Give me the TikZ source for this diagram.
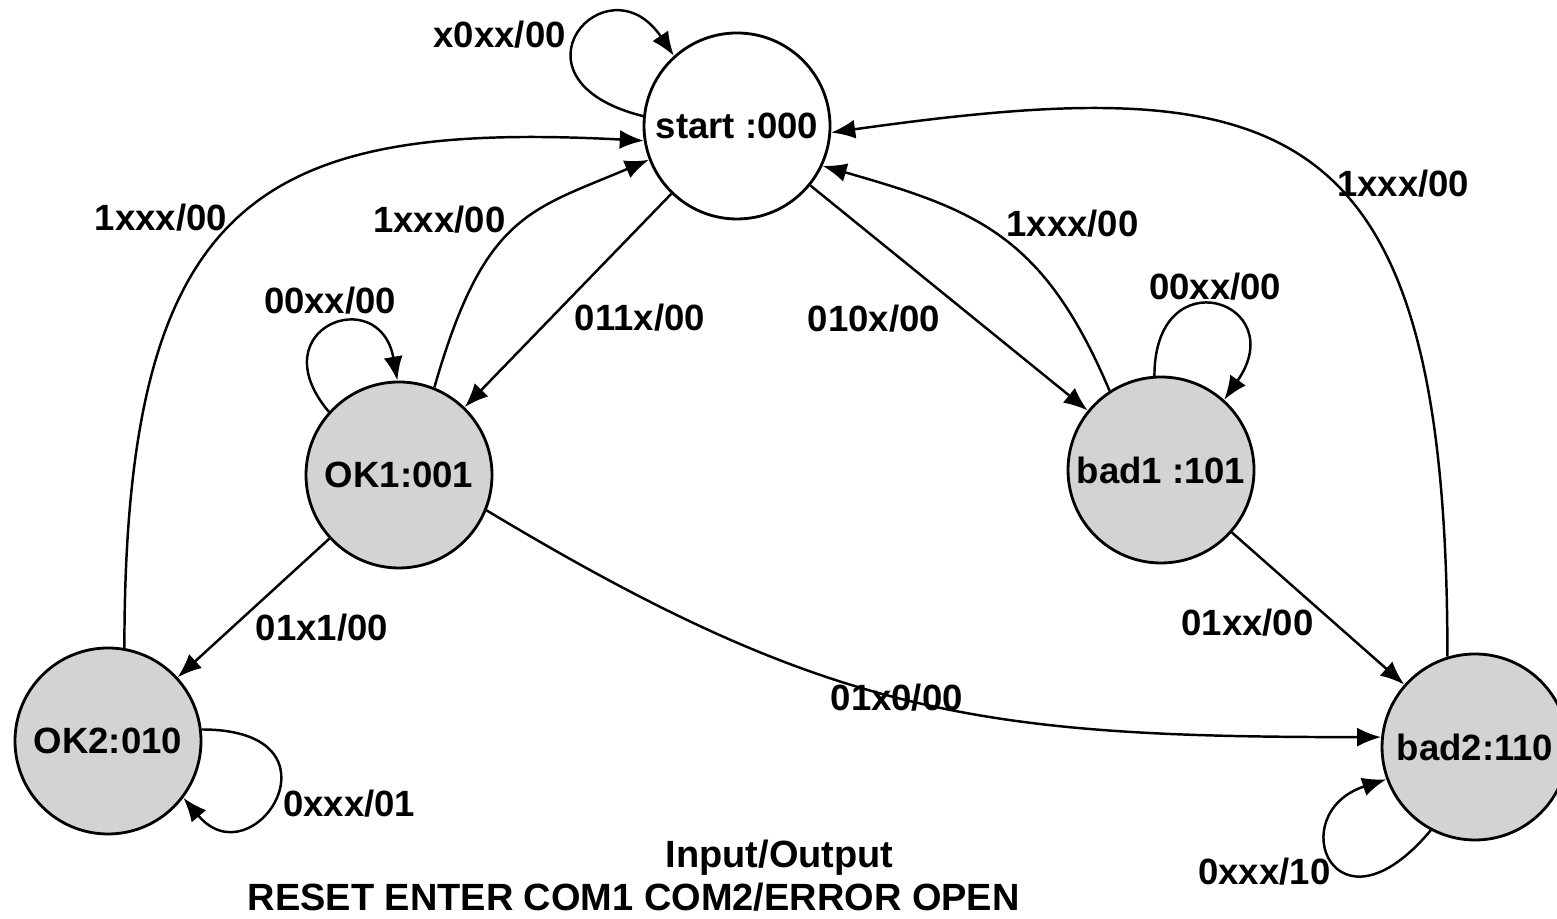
\documentclass[tikz,border=0pt]{standalone}
\usepackage{fontspec}
\setmainfont{Liberation Sans}
\usepackage{xcolor}
\usepackage{tikz}
\usetikzlibrary{arrows.meta}
\definecolor{stategray}{RGB}{211,211,211}

\begin{document}
\begin{tikzpicture}[
    font=\fontsize{10.4}{12.5}\selectfont\bfseries,
    state/.style={
        circle,
        draw=black,
        fill=stategray,
        line width=0.8pt,
        minimum size=1.86cm,
        inner sep=0pt
    },
    initstate/.style={state, fill=white},
    trans/.style={-{Latex[length=2.4mm, width=1.9mm]}, line width=0.7pt},
    legend/.style={anchor=west, inner sep=0pt, font=\fontsize{10.8}{13}\selectfont\bfseries}
]
\useasboundingbox (0,0) rectangle (15.57,9.19);

% States
\node[initstate] (start) at (7.37, 7.93) {start :000};
\node[state] (ok1)  at (3.99, 4.44)  {OK1:001};
\node[state] (ok2)  at (1.08, 1.78)  {OK2:010};
\node[state] (bad1) at (11.61, 4.49) {bad1 :101};
\node[state] (bad2) at (14.75, 1.72) {bad2:110};

% Self loops
\draw[trans] (start.174) .. controls +(166:1.5) and +(124:1.2) .. (start.132) node[pos=0.5, left] {x0xx/00};
\draw[trans] (ok1.138) .. controls +(130:1.1) and +(100:1.0) .. (ok1.91) node[pos=0.5, above] {00xx/00};
\draw[trans] (bad1.94) .. controls +(90:1.2) and +(55:1.2) .. (bad1.48) node[pos=0.5, above=-2pt] {00xx/00};
\draw[trans] (ok2.7) .. controls +(0:1.5) and +(-50:1.1) .. (ok2.-37) node[pos=0.55, right] {0xxx/01};
\draw[trans] (bad2.-118) .. controls +(-130:1.5) and +(198:1.1) .. (bad2.-160) node[pos=0.4, left] {0xxx/10};

% Out of start
\draw[trans] (start) -- node[pos=0.58, right=3pt] {011x/00} (ok1);
\draw[trans] (start) -- node[pos=0.59, left=6pt] {010x/00} (bad1);

% Back to start
\draw[trans] (ok1.68) .. controls +(74:1.8) and +(203:1.3) .. (start.201) node[pos=0.55, left=2pt] {1xxx/00};
\draw[trans] (ok2.80) .. controls +(90:4.5) and +(177:3.85) .. (start.189) node[pos=0.5, left] {1xxx/00};
\draw[trans] (bad1.123) .. controls +(113:1.7) and +(-16:1.6) .. (start.-25) node[pos=0.48, above right=-3pt] {1xxx/00};
\draw[trans] (bad2.107) .. controls +(90:5.5) and +(8:4.6) .. (start.-4) node[pos=0.5, anchor=north west, xshift=4pt, yshift=2pt] {1xxx/00};

% Forward
\draw[trans] (ok1) -- node[pos=0.64, right=3pt] {01x1/00} (ok2);
\draw[trans] (bad1) -- node[pos=0.59, left=2pt] {01xx/00} (bad2);
\draw[trans] (ok1.-22) .. controls +(-31:4) and +(180:4) .. (bad2.174) node[pos=0.48] {01x0/00};

% Legend
\node[legend] (io)  at (6.65, 0.61) {Input/Output};
\node[legend] (sig) at (2.47, 0.22) {RESET ENTER COM1 COM2/ERROR OPEN};

\end{tikzpicture}
\end{document}
